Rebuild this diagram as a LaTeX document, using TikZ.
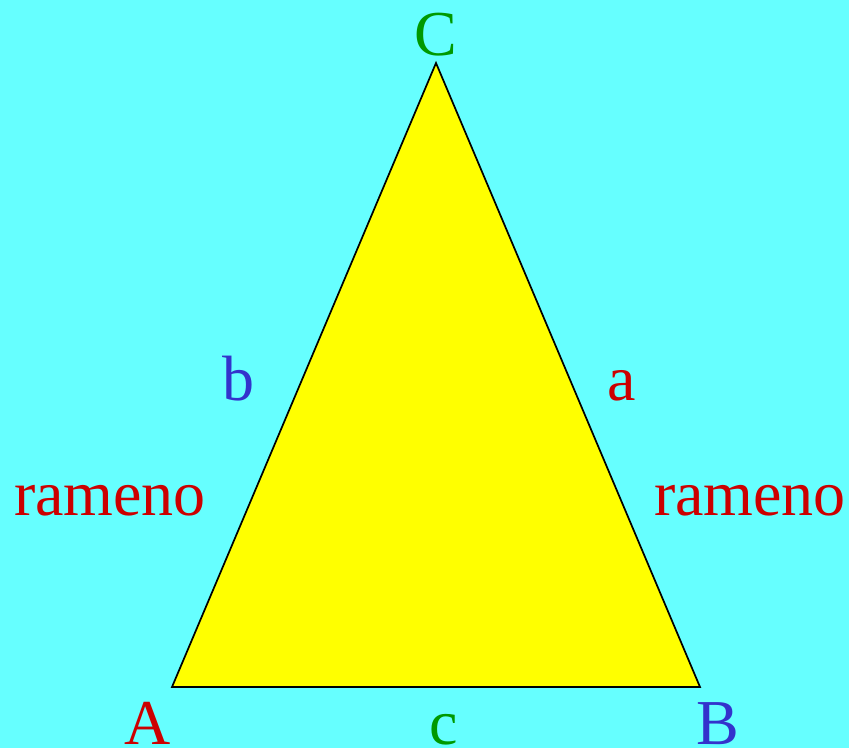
\documentclass[tikz,border=0pt]{standalone}
\usepackage{fontspec}
\setmainfont{Liberation Serif}
\usepackage{tikz}
\definecolor{bgcyan}{HTML}{66FFFF}
\definecolor{triyellow}{HTML}{FFFF00}
\definecolor{lblred}{HTML}{CC0000}
\definecolor{lblgreen}{HTML}{009900}
\definecolor{lblblue}{HTML}{3333CC}
\tikzset{lbl/.style={anchor=base, inner sep=0pt, font=\fontsize{64}{72}\selectfont}}

\begin{document}
\begin{tikzpicture}[x=1pt, y=-1pt]
      \fill [bgcyan] (0,0) rectangle (849,748);
      \useasboundingbox (0,0) rectangle (849,748);
      \coordinate (A) at (172,687);
      \coordinate (B) at (700,687);
      \coordinate (C) at (436,63);
      \draw [fill=triyellow, line width=1.7pt, line join=miter] (A) -- (B) -- (C) -- cycle;
      \node [lbl, lblred] (labA) at (148,744) {A};
      \node [lbl, lblblue] (labB) at (718,744) {B};
      \node [lbl, lblgreen] (labC) at (436,55) {C};
      \node [lbl, lblred] (laba) at (622,400) {a};
      \node [lbl, lblblue] (labb) at (238,400) {b};
      \node [lbl, lblgreen] (labc) at (444,744) {c};
      \node [lbl, lblred] (ramL) at (110,515) {rameno};
      \node [lbl, lblred] (ramR) at (750,515) {rameno};
\end{tikzpicture}
\end{document}
